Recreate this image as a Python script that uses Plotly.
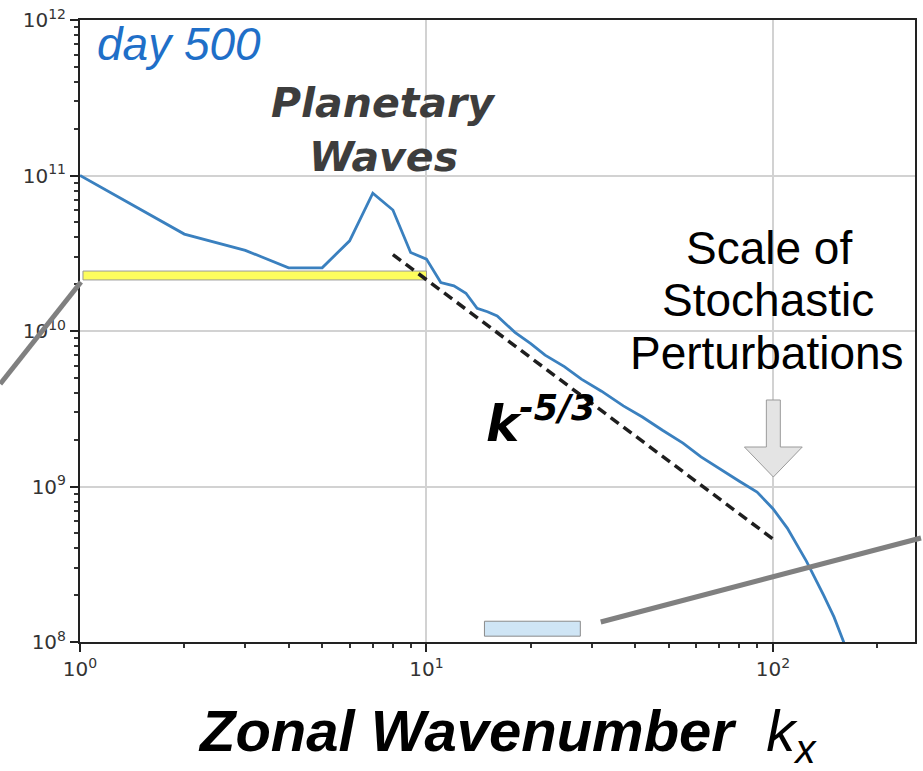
import plotly.graph_objects as go

# Zonal kinetic-energy spectrum at day 500
wavenumber = [1, 2, 3, 4, 5, 6, 7, 8, 9, 10, 11, 12, 13, 14, 15, 16, 18, 20, 22, 25,
              28, 32, 37, 42, 48, 55, 62, 70, 80, 90, 100, 110, 125, 140, 150, 160, 170]
energy = [1.0e11, 4.2e10, 3.3e10, 2.55e10, 2.55e10, 3.8e10, 7.7e10, 6.0e10, 3.2e10, 2.9e10,
          2.05e10, 1.95e10, 1.75e10, 1.4e10, 1.33e10, 1.25e10, 9.8e9, 8.3e9, 7.0e9, 5.9e9,
          4.9e9, 4.1e9, 3.3e9, 2.8e9, 2.3e9, 1.9e9, 1.55e9, 1.3e9, 1.08e9, 9.2e8,
          7.2e8, 5.4e8, 3.3e8, 2.0e8, 1.45e8, 1.0e8, 6.5e7]

# k^(-5/3) reference slope
slope_k = [8, 100]
slope_e = [3.1e10, 4.6e8]

# highlighted wavenumber bands
planetary_band_k = [1.02, 10]
planetary_band_e = [2.13e10, 2.43e10]
stoch_band_k = [14.7, 27.8]
stoch_band_e = [1.09e8, 1.36e8]

x_tickvals = [1, 10, 100]
x_ticktext = ["10<sup>0</sup>", "10<sup>1</sup>", "10<sup>2</sup>"]
y_tickvals = [1e8, 1e9, 1e10, 1e11, 1e12]
y_ticktext = ["10<sup>8</sup>", "10<sup>9</sup>", "10<sup>10</sup>", "10<sup>11</sup>", "10<sup>12</sup>"]

W, H = 923, 771
ML, MR, MT, MB = 80, 6, 20, 129
PW, PH = W - ML - MR, H - MT - MB


def px(x):
    return (x - ML) / PW


def py(y):
    return (H - MB - y) / PH


def band(ks, es):
    return ([ks[0], ks[1], ks[1], ks[0], ks[0]], [es[0], es[0], es[1], es[1], es[0]])


fig = go.Figure()

bx, by = band(planetary_band_k, planetary_band_e)
fig.add_trace(go.Scatter(x=bx, y=by, mode="lines", fill="toself", fillcolor="#fdfd5e",
                         line=dict(color="#9a9a9a", width=1), hoverinfo="skip", showlegend=False))
bx, by = band(stoch_band_k, stoch_band_e)
fig.add_trace(go.Scatter(x=bx, y=by, mode="lines", fill="toself", fillcolor="#cfe5f5",
                         line=dict(color="#8a8a8a", width=1), hoverinfo="skip", showlegend=False))

fig.add_trace(go.Scatter(x=slope_k, y=slope_e, mode="lines",
                         line=dict(color="#1e1e1e", width=3.5, dash="10px,6px"), showlegend=False))
fig.add_trace(go.Scatter(x=wavenumber, y=energy, mode="lines",
                         line=dict(color="#3a80bf", width=2.8), showlegend=False))

axis_common = dict(
    type="log", showline=True, linecolor="#222222", linewidth=2, mirror=True,
    ticks="outside", ticklen=8, tickwidth=1.5, tickcolor="#222222",
    showgrid=True, gridcolor="#d2d2d2", gridwidth=2, zeroline=False,
    tickfont=dict(family="DejaVu Sans", size=20, color="#333333"),
    minor=dict(ticks="outside", ticklen=4, tickcolor="#333333", dtick="D1", showgrid=False),
)

fig.update_xaxes(range=[0, 2.41], tickvals=x_tickvals, ticktext=x_ticktext, **axis_common)
fig.update_yaxes(range=[8, 12], tickvals=y_tickvals, ticktext=y_ticktext, **axis_common)

# connector lines and the arrow marking the stochastic scale
shapes = [
    dict(type="line", xref="paper", yref="paper", x0=px(0), y0=py(384), x1=px(81), y1=py(282),
         line=dict(color="#808080", width=5)),
    dict(type="line", xref="paper", yref="paper", x0=px(602), y0=py(622), x1=px(923), y1=py(538),
         line=dict(color="#808080", width=5)),
]
arrow_pts = [(768, 400), (782, 400), (782, 447), (804, 447), (775, 477), (746, 447), (768, 447)]
path = "M " + " L ".join(f"{px(x):.5f},{py(y):.5f}" for x, y in arrow_pts) + " Z"
shapes.append(dict(type="path", xref="paper", yref="paper", path=path,
                   fillcolor="#e4e4e4", line=dict(color="#9a9a9a", width=1)))

annotations = [
    dict(text="<i>day 500</i>", x=px(95), y=py(44), xanchor="left", yanchor="middle",
         font=dict(family="Liberation Sans", size=46, color="#1f6fc8")),
    dict(text="<b><i>Planetary</i></b>", x=px(384), y=py(103), xanchor="center", yanchor="middle",
         font=dict(family="DejaVu Sans", size=41, color="#3d3d3d")),
    dict(text="<b><i>Waves</i></b>", x=px(384), y=py(157), xanchor="center", yanchor="middle",
         font=dict(family="DejaVu Sans", size=41, color="#3d3d3d")),
    dict(text="Scale of", x=px(771), y=py(248), xanchor="center", yanchor="middle",
         font=dict(family="Liberation Sans", size=46, color="#000000")),
    dict(text="Stochastic", x=px(770), y=py(300), xanchor="center", yanchor="middle",
         font=dict(family="Liberation Sans", size=46, color="#000000")),
    dict(text="Perturbations", x=px(769), y=py(353), xanchor="center", yanchor="middle",
         font=dict(family="Liberation Sans", size=46, color="#000000")),
    dict(text="<b><i>k<sup>-5/3</sup></i></b>", x=px(485), y=py(420), xanchor="left", yanchor="middle",
         font=dict(family="DejaVu Sans", size=50, color="#000000")),
    dict(text="<b><i>Zonal Wavenumber</i></b>  <i>k<sub>x</sub></i>", x=px(509), y=py(735),
         xanchor="center", yanchor="middle",
         font=dict(family="Liberation Sans", size=58, color="#000000")),
]
for a in annotations:
    a.update(xref="paper", yref="paper", showarrow=False)

fig.update_layout(
    width=W, height=H, margin=dict(l=ML, r=MR, t=MT, b=MB),
    paper_bgcolor="white", plot_bgcolor="white",
    shapes=shapes, annotations=annotations, showlegend=False,
)

fig.write_html("out.html")
